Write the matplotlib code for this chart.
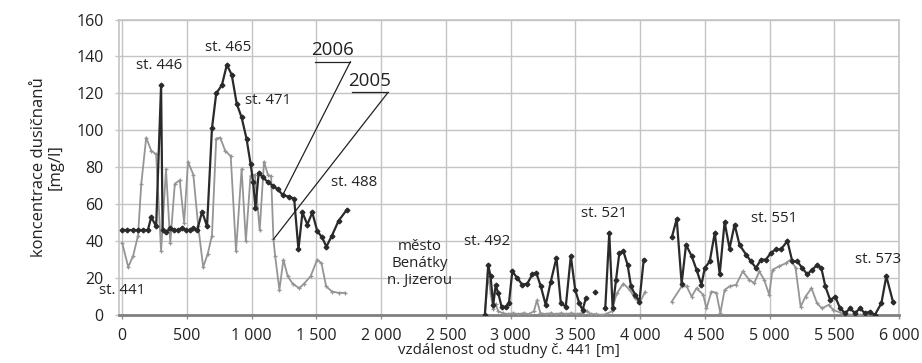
import numpy as np
import matplotlib
matplotlib.use("Agg")
import matplotlib.pyplot as plt

plt.rcParams['font.family'] = ['Open Sans', 'DejaVu Sans']

nan = np.nan

# ---- data (distance [m], nitrate concentration [mg/l]) ----
dist_2006 = [0, 40, 80, 120, 160, 198, 224, 262, 300, 312, 340, 370, 400, 430, 460, 490, 520, 550, 579,
             617, 655, 693, 726, 770, 808, 846, 884, 922, 960, 991, 1011, 1029, 1054, 1087, 1125, 1163,
             1201, 1240, 1290, 1328, 1361, 1392, 1430, 1468, 1506, 1544, 1577, 1620, 1671, 1735,
             2000,
             2801, 2827, 2845, 2866, 2884, 2904, 2930, 2961, 2987, 3013, 3052, 3090, 3129, 3168, 3199,
             3233, 3271, 3310, 3354, 3388, 3426, 3465, 3499, 3530, 3556, 3581,
             3620, 3651, 3700,
             3731, 3762, 3788, 3814, 3840, 3871, 3904, 3930, 3961, 3995, 4028,
             4150,
             4245, 4283, 4321, 4355, 4398, 4436, 4474, 4500, 4538, 4577, 4615, 4653, 4691, 4730, 4768,
             4819, 4857, 4895, 4934, 4972, 5010, 5048, 5087, 5138, 5176, 5214, 5252, 5291, 5329, 5367,
             5400, 5431, 5469, 5507, 5545, 5584, 5622, 5660, 5698, 5737, 5775, 5813, 5864, 5902, 5953]
conc_2006 = [46, 46, 46, 46, 46, 46, 53, 48, 124.5, 46, 45, 47, 46, 46, 47, 46, 46, 47, 46,
             56, 48, 101, 120, 124.5, 135.5, 130, 114.5, 107, 95.5, 82, 72, 58, 77, 74.5, 72, 70,
             68, 65, 64, 63, 35.5, 55.5, 49, 55.5, 45.5, 42, 37, 43, 51, 57,
             nan,
             0, 27, 21, 5.5, 16, 12, 4.5, 4.5, 6.4, 23.6, 20, 16.4, 17, 22, 22.7,
             15.5, 5.5, 18, 31, 6.4, 4.5, 32, 13.6, 6.4, 2.7, 9,
             nan, 12.7, nan,
             3.6, 44.5, 3.6, 19, 33.6, 34.5, 27, 15.5, 11, 7.3, 30,
             nan,
             42, 52, 17, 38, 32, 24.5, 16.4, 25.5, 29, 44.5, 22, 50.4, 36, 49, 38,
             32.7, 29, 25.5, 30, 30, 33.6, 35.5, 35.5, 40, 29, 29, 25.5, 22, 24.5, 27,
             25.5, 15.5, 8, 10, 3.6, 1, 3.6, 1, 3.6, 1, 1.8, 0, 6.4, 21, 7.3]

dist_2005 = [0, 46, 84, 122, 147, 185, 224, 262, 300, 338, 371, 406, 444, 478, 508, 549, 587, 625, 660,
             693, 726, 757, 795, 838, 879, 922, 955, 991, 1024, 1062, 1095, 1125, 1150, 1168, 1181,
             1214, 1245, 1278, 1316, 1367, 1405, 1455, 1506, 1539, 1575, 1620, 1671, 1722,
             2000,
             2801, 2827, 2845, 2866, 2884, 2904, 2940, 2980, 3020, 3060, 3100, 3140, 3180, 3203, 3230,
             3270, 3310, 3350, 3390, 3430, 3470, 3510, 3550, 3590, 3620, 3660, 3700, 3740, 3780, 3820,
             3871, 3922, 3960, 4000, 4039,
             4150,
             4245, 4321, 4360, 4398, 4436, 4487, 4513, 4551, 4589, 4620, 4653, 4691, 4742, 4793, 4844,
             4882, 4921, 4959, 4997, 5023, 5074, 5125, 5163, 5201, 5240, 5278, 5324, 5367, 5405, 5456,
             5494, 5558, 5620, 5700, 5813]
conc_2005 = [39, 26, 32, 43, 71, 96, 89, 87, 34.5, 79, 39, 71, 73, 50, 83, 76, 48, 26, 33,
             43, 95.5, 96, 89, 86, 34.5, 79, 40, 75.5, 76, 46, 83, 76, 75, 41, 32,
             13.6, 30, 21, 17, 14.5, 17, 21, 30, 28, 15.5, 12.7, 12, 12,
             nan,
             0, 22, 12, 3, 6, 2, 1, 0.5, 1, 0.5, 1, 0.5, 2, 8, 1,
             0.5, 1, 0.5, 1, 0.5, 1, 0.5, 1, 2, 0.5, 0.5, 0, 0.5, 2, 11.7,
             17, 13.5, 9, 7, 12.6,
             nan,
             7.3, 15.5, 15.5, 10, 14.5, 11, 3.6, 12.7, 12, 1, 13.6, 15.5, 16.4, 23.6, 19,
             17.3, 23.6, 19, 11, 24.5, 26.4, 28, 30, 25.5, 4.5, 10, 14.5, 6.4, 3.6, 5.5,
             2.7, 1, 0, 0, 0]

x_ticks = [0, 500, 1000, 1500, 2000, 2500, 3000, 3500, 4000, 4500, 5000, 5500, 6000]
x_tick_labels = ["0", "500", "1 000", "1 500", "2 000", "2 500", "3 000", "3 500",
                 "4 000", "4 500", "5 000", "5 500", "6 000"]
y_ticks = [0, 20, 40, 60, 80, 100, 120, 140, 160]

# station labels: (text, x, y)
station_labels = [("st. 446", 285, 135), ("st. 465", 817, 145), ("st. 471", 1126, 116),
                  ("st. 488", 1789, 72), ("st. 441", 0, 13.5), ("st. 492", 2822, 40),
                  ("st. 521", 3724, 55), ("st. 551", 5035, 52), ("st. 573", 5837, 30)]
town_label = "město\nBenátky\nn. Jizerou"

# ---- figure ----
fig = plt.figure(figsize=(9.22, 3.63), dpi=100)
ax = fig.add_axes([119 / 922, 1 - 315 / 363, (899 - 119) / 922, (315 - 19.5) / 363])

ax.plot(dist_2005, conc_2005, color='#959595', lw=1.3, marker='+', ms=3.5, mew=0.9, zorder=3)
ax.plot(dist_2006, conc_2006, color='#2a2a2a', lw=1.6, marker='D', ms=2.4, zorder=4)

ax.set_xlim(-25, 6000)
ax.set_ylim(0, 160)
ax.set_xticks(x_ticks)
ax.set_xticklabels(x_tick_labels)
ax.set_yticks(y_ticks)

ax.grid(True, color='#c4c4c4', lw=1.0, zorder=0)
for s in ['top', 'right', 'left']:
    ax.spines[s].set_color('#c4c4c4')
    ax.spines[s].set_linewidth(1.2)
ax.spines['bottom'].set_color('#808080')
ax.spines['bottom'].set_linewidth(2.0)
ax.tick_params(axis='both', labelsize=11.5, colors='#222222', length=3, width=1.0)
ax.tick_params(axis='x', color='#909090', pad=6)
ax.tick_params(axis='y', color='#c4c4c4', pad=8)

ax.set_xlabel("vzdálenost od studny č. 441 [m]", fontsize=10.8, color='#222222', labelpad=0)
ax.set_ylabel("koncentrace dusičnanů\n[mg/l]", fontsize=12, color='#222222', labelpad=9,
              linespacing=1.05)

for txt, x, y in station_labels:
    ax.text(x, y, txt, fontsize=10.8, color='#222222', ha='center', va='center', zorder=5)
ax.text(2298, 28, town_label, fontsize=10.8, color='#222222', ha='center', va='center',
        linespacing=1.2, zorder=5)

# year leader annotations
i06 = dist_2006.index(1240)
i05 = dist_2005.index(1168)
ax.plot([1488, 1763], [137.2, 137.2], color='#222222', lw=0.9, zorder=5)
ax.annotate("", xy=(dist_2006[i06], conc_2006[i06]), xytext=(1763, 137.2),
            arrowprops=dict(arrowstyle='-', color='#222222', lw=0.9, shrinkA=0, shrinkB=0), zorder=5)
ax.text(1625, 138.5, "2006", fontsize=13.5, color='#222222', ha='center', va='bottom', zorder=5)
ax.plot([1771, 2053], [120.5, 120.5], color='#222222', lw=0.9, zorder=5)
ax.annotate("", xy=(dist_2005[i05], conc_2005[i05]), xytext=(2053, 120.5),
            arrowprops=dict(arrowstyle='-', color='#222222', lw=0.9, shrinkA=0, shrinkB=0), zorder=5)
ax.text(1912, 121.8, "2005", fontsize=13.5, color='#222222', ha='center', va='bottom', zorder=5)

fig.savefig("out.png", dpi=100)
